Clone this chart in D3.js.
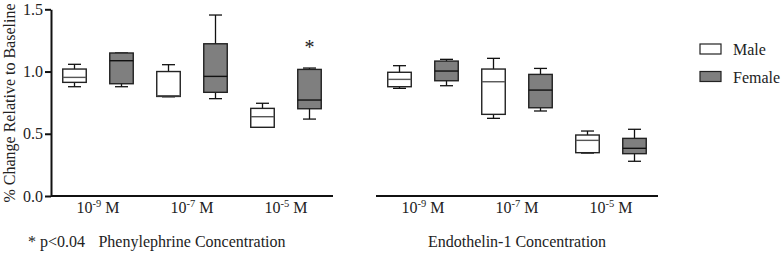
<!DOCTYPE html>
<html>
<head>
<meta charset="utf-8">
<script src="https://cdn.jsdelivr.net/npm/d3@7"></script>
<style>
body { margin:0; background:#fff; }
svg text { font-family:"Times New Roman","Liberation Serif",Tinos,serif; }
</style>
</head>
<body>
<svg></svg>
<script>
// concentrations (exponents) shown under each panel
var concentrations = ["-9","-7","-5"];
var sexes = ["Male","Female"];

// box stats: [min, q1, median, q3, max]
var pheMale = [[0.878,0.913,0.953,1.02,1.058],[0.797,0.80,0.806,1.0,1.055],[0.552,0.552,0.637,0.704,0.745]];
var pheFemale = [[0.878,0.902,1.087,1.149,1.149],[0.782,0.833,0.961,1.223,1.454],[0.618,0.701,0.771,1.017,1.028]];
var etMale = [[0.865,0.878,0.937,0.994,1.047],[0.624,0.656,0.918,1.02,1.106],[0.345,0.348,0.447,0.49,0.522]];
var etFemale = [[0.886,0.926,1.004,1.084,1.098],[0.683,0.709,0.851,0.977,1.025],[0.279,0.34,0.383,0.463,0.536]];

var yTicks = [0,0.5,1.0,1.5];
var significant = [{panel:0,conc:"-5",sex:"Female"}];

var screen = {width:782,height:254};
var svg = d3.select("svg")
            .attr("width",screen.width)
            .attr("height",screen.height);

var yScale = d3.scaleLinear()
          .domain([0,1.5])
          .range([196,9.3]);

var colors = d3.scaleOrdinal()
          .domain(sexes)
          .range(["#ffffff","#7f7f7f"]);

var panels = [
  {title:"Phenylephrine Concentration", x0:51, x1:333, male:pheMale, female:pheFemale},
  {title:"Endothelin-1 Concentration", x0:376, x1:658, male:etMale, female:etFemale}
];

// y axis
var yAxis = d3.axisLeft(yScale)
          .tickValues(yTicks)
          .tickFormat(d3.format(".1f"))
          .tickSize(6)
          .tickSizeOuter(0);

var yg = svg.append("g")
    .attr("transform","translate(51,0)")
    .call(yAxis);
yg.attr("font-family",null);
yg.select(".domain").attr("stroke","#111").attr("stroke-width",2);
yg.selectAll(".tick line").attr("stroke","#111").attr("stroke-width",2);
yg.selectAll(".tick text")
    .attr("x",-8)
    .attr("font-size",16);

svg.append("text")
    .attr("transform","translate(15,103) rotate(-90)")
    .attr("text-anchor","middle")
    .attr("font-size",16)
    .text("% Change Relative to Baseline");

panels.forEach(function(p,pi)
{
  var xScale = d3.scaleBand()
            .domain(concentrations)
            .range([p.x0,p.x1]);
  var inner = d3.scaleBand()
            .domain(sexes)
            .range([0,xScale.bandwidth()])
            .paddingInner(0.5)
            .paddingOuter(0.25);

  var plot = svg.append("g").classed("panel",true);

  // x axis line
  plot.append("line")
      .attr("x1",p.x0).attr("x2",p.x1)
      .attr("y1",yScale(0)).attr("y2",yScale(0))
      .attr("stroke","#111")
      .attr("stroke-width",2);

  var boxes = [];
  concentrations.forEach(function(c,ci)
  {
    boxes.push({conc:c,sex:"Male",s:p.male[ci]});
    boxes.push({conc:c,sex:"Female",s:p.female[ci]});
  });

  var bw = inner.bandwidth();
  var g = plot.selectAll("g.box")
      .data(boxes)
      .enter()
      .append("g")
      .attr("class","box")
      .attr("transform",function(d){return "translate("+(xScale(d.conc)+inner(d.sex))+",0)";});

  // whiskers
  g.append("line")
      .attr("x1",bw/2).attr("x2",bw/2)
      .attr("y1",function(d){return yScale(d.s[4]);})
      .attr("y2",function(d){return yScale(d.s[0]);})
      .attr("stroke","#111").attr("stroke-width",1.3);
  g.selectAll("line.cap")
      .data(function(d){return [d.s[0],d.s[4]];})
      .enter()
      .append("line")
      .attr("class","cap")
      .attr("x1",bw/2-6.5).attr("x2",bw/2+6.5)
      .attr("y1",function(v){return yScale(v);})
      .attr("y2",function(v){return yScale(v);})
      .attr("stroke","#111").attr("stroke-width",1.3);

  g.append("rect")
      .attr("x",0)
      .attr("width",bw)
      .attr("y",function(d){return yScale(d.s[3]);})
      .attr("height",function(d){return yScale(d.s[1])-yScale(d.s[3]);})
      .attr("fill",function(d){return colors(d.sex);})
      .attr("stroke","#222")
      .attr("stroke-width",1.4);

  g.append("line")
      .attr("x1",0).attr("x2",bw)
      .attr("y1",function(d){return yScale(d.s[2]);})
      .attr("y2",function(d){return yScale(d.s[2]);})
      .attr("stroke",function(d){return d.sex=="Male" ? "#555" : "#111";})
      .attr("stroke-width",1.4);

  // tick labels
  var labels = plot.selectAll("text.xlab")
      .data(concentrations)
      .enter()
      .append("text")
      .attr("class","xlab")
      .attr("x",function(d){return xScale(d)+xScale.bandwidth()/2;})
      .attr("y",213)
      .attr("text-anchor","middle")
      .attr("font-size",16);
  labels.append("tspan").text("10");
  labels.append("tspan")
      .attr("dy",-6)
      .attr("font-size",10.5)
      .text(function(d){return d;});
  labels.append("tspan")
      .attr("dy",6)
      .text(" M");

  plot.append("text")
      .attr("x",(p.x0+p.x1)/2)
      .attr("y",247)
      .attr("text-anchor","middle")
      .attr("font-size",16)
      .text(p.title);

  // significance marks
  significant.filter(function(s){return s.panel==pi;}).forEach(function(s)
  {
    var ci = concentrations.indexOf(s.conc);
    var top = (s.sex=="Male" ? p.male : p.female)[ci][4];
    plot.append("text")
        .attr("x",xScale(s.conc)+inner(s.sex)+bw/2)
        .attr("y",yScale(top)-14)
        .attr("text-anchor","middle")
        .attr("font-size",20)
        .text("*");
  });
});

svg.append("text")
    .attr("x",28)
    .attr("y",247)
    .attr("font-size",16)
    .text("* p<0.04");

// legend
var legend = svg.append("g")
    .classed("legend",true)
    .attr("transform","translate(700,44)");
var legendLines = legend.selectAll("g")
    .data(sexes)
    .enter()
    .append("g")
    .attr("transform",function(d,i){return "translate(0,"+(i*27.5)+")";});
legendLines.append("rect")
    .attr("width",21).attr("height",10)
    .attr("fill",function(d){return colors(d);})
    .attr("stroke","#222")
    .attr("stroke-width",1.2);
legendLines.append("text")
    .attr("x",33)
    .attr("y",11)
    .attr("font-size",16)
    .text(function(d){return d;});

svg.selectAll("text").attr("fill","#222");
</script>
</body>
</html>
